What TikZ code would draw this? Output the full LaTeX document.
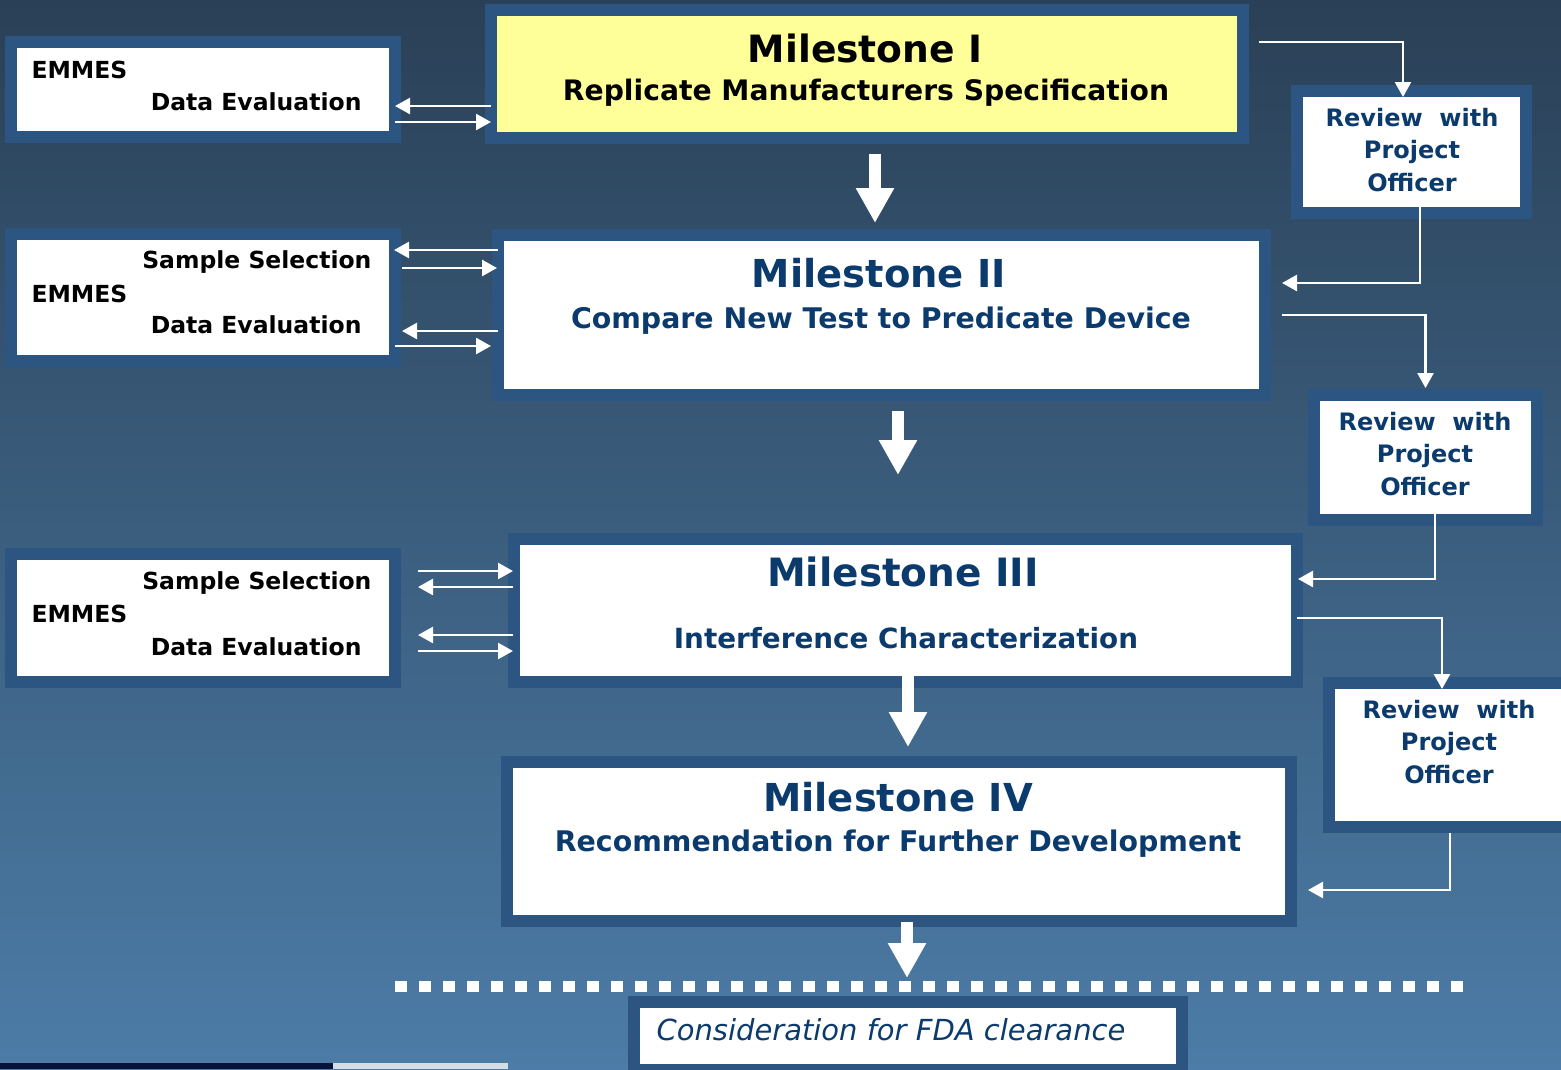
\documentclass[tikz,border=0pt]{standalone}
\usepackage{fontspec}
\setmainfont{DejaVu Sans}
\usetikzlibrary{arrows.meta}
\definecolor{bgtop}{HTML}{2A4056}
\definecolor{bgmid}{HTML}{3D6386}
\definecolor{bgbot}{HTML}{4C7CA7}
\definecolor{frameblue}{HTML}{2C5581}
\definecolor{navy}{HTML}{0B3A6D}
\definecolor{padyellow}{HTML}{FFFF99}
\definecolor{stripdark}{HTML}{06123A}
\definecolor{striplight}{HTML}{D5DEE6}
\tikzset{
  box/.style={draw=frameblue, line width=12pt, fill=white, inner sep=0pt, outer sep=0pt},
  mtitle/.style={anchor=base, text=navy, font=\bfseries\fontsize{38.5}{46}\selectfont},
  msub/.style={anchor=base, text=navy, font=\bfseries\fontsize{28.4}{34}\selectfont},
  etext/.style={text=black, font=\bfseries\fontsize{23.5}{28}\selectfont},
  review/.style={align=center, text=navy, font=\bfseries\fontsize{24}{32.5}\selectfont},
  pair/.style={draw=white, line width=2.5pt, -{Triangle[length=15pt,width=16pt]}},
  bigarrow/.style={draw=white, line width=12pt, -{Triangle[length=35pt,width=36pt]}},
  fdaline/.style={draw=white, line width=11pt, dash pattern=on 12pt off 12pt}
}

\begin{document}
\begin{tikzpicture}[x=1pt,y=-1pt]
  \useasboundingbox (0,0) rectangle (1561,1069);
  \clip (0,0) rectangle (1561,1069);
  \shade[top color=bgtop, middle color=bgmid, bottom color=bgbot] (0,0) rectangle (1561,1069);
  \fill[stripdark] (0,1063) rectangle (333,1069);
  \fill[striplight] (333,1063) rectangle (508,1069);

  % milestones
  \node[box, fill=padyellow, minimum width=752pt, minimum height=128pt] (m1) at (867,74) {};
  \node[box, minimum width=767pt, minimum height=160pt] (m2) at (881.5,315) {};
  \node[box, minimum width=783pt, minimum height=143pt] (m3) at (905.5,610.5) {};
  \node[box, minimum width=784pt, minimum height=159pt] (m4) at (899,841.5) {};

  \node[mtitle, text=black, font=\bfseries\fontsize{37.6}{45}\selectfont] (m1t) at (865,62) {Milestone I};
  \node[msub, text=black, font=\bfseries\fontsize{28.2}{34}\selectfont] (m1s) at (866,100) {Replicate Manufacturers Specification};
  \node[mtitle] (m2t) at (879,287) {Milestone II};
  \node[msub] (m2s) at (881,328) {Compare New Test to Predicate Device};
  \node[mtitle, font=\bfseries\fontsize{39}{46}\selectfont] (m3t) at (903,586) {Milestone III};
  \node[msub, font=\bfseries\fontsize{27.8}{33}\selectfont] (m3s) at (906,648) {Interference Characterization};
  \node[mtitle] (m4t) at (898,811) {Milestone IV};
  \node[msub] (m4s) at (898,851) {Recommendation for Further Development};

  % EMMES boxes
  \node[box, minimum width=384pt, minimum height=95pt] (e1) at (203,89.5) {};
  \node[box, minimum width=384pt, minimum height=127pt] (e2) at (203,297.5) {};
  \node[box, minimum width=384pt, minimum height=128pt] (e3) at (203,618) {};

  \node[etext, anchor=base west] (e1a) at (28,78) {EMMES};
  \node[etext, anchor=base east] (e1b) at (365,110) {Data Evaluation};
  \node[etext, anchor=base east] (e2a) at (375,268) {Sample Selection};
  \node[etext, anchor=base west] (e2b) at (28,302) {EMMES};
  \node[etext, anchor=base east] (e2c) at (365,333) {Data Evaluation};
  \node[etext, anchor=base east] (e3a) at (375,589) {Sample Selection};
  \node[etext, anchor=base west] (e3b) at (28,622) {EMMES};
  \node[etext, anchor=base east] (e3c) at (365,655) {Data Evaluation};

  % review boxes
  \node[box, minimum width=229pt, minimum height=122pt] (r1) at (1411.5,152) {};
  \node[box, minimum width=223pt, minimum height=125pt] (r2) at (1425.5,457.5) {};
  \node[box, minimum width=239pt, minimum height=144pt] (r3) at (1448.5,755) {};
  \node[review] (r1t) at (1412,150) {Review\ \ with\\Project\\Officer};
  \node[review] (r2t) at (1425,454) {Review\ \ with\\Project\\Officer};
  \node[review] (r3t) at (1449,742) {Review\ \ with\\Project\\Officer};

  % FDA
  \node[box, minimum width=548pt, minimum height=68pt] (fda) at (908,1036) {};
  \node[anchor=base west, text=navy, font=\itshape\fontsize{29}{34}\selectfont] (fdat) at (653,1040) {Consideration for FDA clearance};
  \coordinate (dl) at (395,986);
  \coordinate (dr) at (1463,986);
  \coordinate (dm) at (907,986);
  \draw[fdaline] (dl) -- (dr);

  % big arrows
  \draw[bigarrow, shorten <=16pt, shorten >=12pt] (m1.south -| 875,0) -- (m2.north -| 875,0);
  \draw[bigarrow, shorten <=16pt, shorten >=64pt] (m2.south -| 898,0) -- (m3.north -| 898,0);
  \draw[bigarrow, shorten <=-10pt, shorten >=15pt] (m3.south -| 908,0) -- (m4.north -| 908,0);
  \draw[bigarrow, shorten <=1pt, shorten >=8pt] (m4.south -| 907,0) -- (dm);

  % EMMES exchanges
  \draw[pair] (m1.west |- 0,106) -- (e1.east |- 0,106);
  \draw[pair] (e1.east |- 0,122) -- (m1.west |- 0,122);
  \draw[pair, shorten >=-1pt] (m2.west |- 0,250) -- (e2.east |- 0,250);
  \draw[pair, shorten <=7pt, shorten >=1pt] (e2.east |- 0,268) -- (m2.west |- 0,268);
  \draw[pair, shorten >=7pt] (m2.west |- 0,331) -- (e2.east |- 0,331);
  \draw[pair, shorten >=7pt] (e2.east |- 0,346) -- (m2.west |- 0,346);
  \draw[pair, shorten <=23pt, shorten >=1pt] (e3.east |- 0,571) -- (m3.west |- 0,571);
  \draw[pair, shorten <=1pt, shorten >=23pt] (m3.west |- 0,587) -- (e3.east |- 0,587);
  \draw[pair, shorten <=1pt, shorten >=23pt] (m3.west |- 0,635) -- (e3.east |- 0,635);
  \draw[pair, shorten <=23pt, shorten >=1pt] (e3.east |- 0,651) -- (m3.west |- 0,651);

  % review loops
  \draw[pair, shorten <=16pt, shorten >=-6pt] (m1.east |- 0,42) -| ([xshift=-8.5pt]r1.north);
  \draw[pair, shorten <=-6pt, shorten >=17pt] ([xshift=8.5pt]r1.south) |- (m2.east |- 0,283);
  \draw[pair, shorten <=17pt, shorten >=7pt] (m2.east |- 0,315) -| (r2.north);
  \draw[pair, shorten <=-6pt, shorten >=1pt] ([xshift=9.5pt]r2.south) |- (m3.east |- 0,579);
  \draw[pair, shorten >=-6pt] (m3.east |- 0,618) -| ([xshift=-6.5pt]r3.north);
  \draw[pair, shorten <=6pt, shorten >=17pt] ([xshift=1.5pt]r3.south) |- (m4.east |- 0,890);
\end{tikzpicture}
\end{document}
